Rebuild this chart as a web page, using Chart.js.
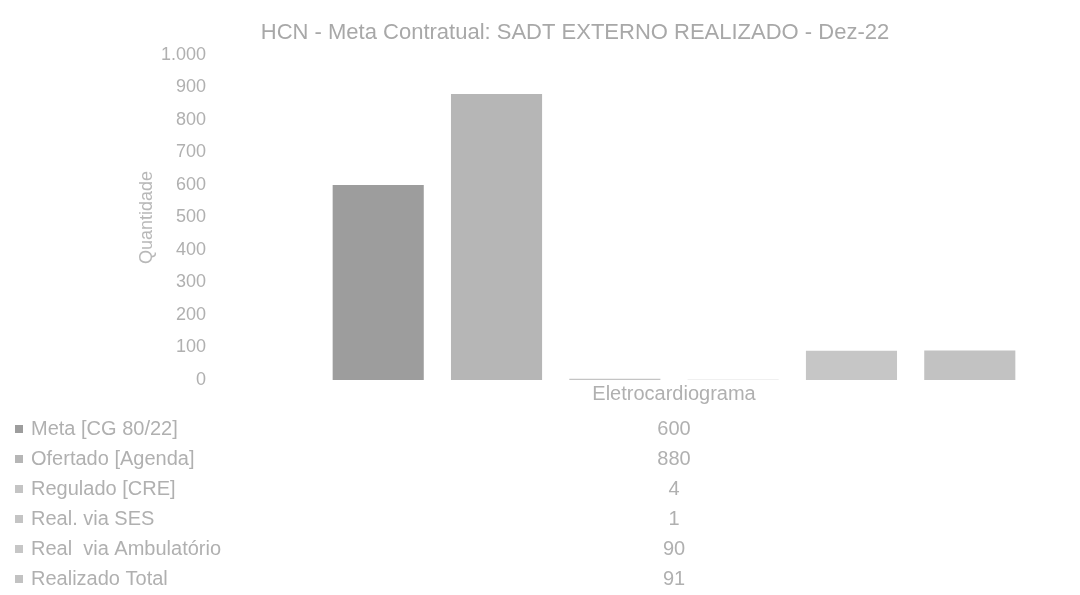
<!DOCTYPE html>
<html lang="pt-BR">
<head>
<meta charset="UTF-8">
<title>HCN - Meta Contratual: SADT EXTERNO REALIZADO - Dez-22</title>
<script src="https://cdn.jsdelivr.net/npm/chart.js"></script>
<style>
  body { margin: 0; background: #fff; }
  #wrap { width: 1080px; height: 595px; position: relative; }
</style>
</head>
<body>
<div id="wrap"><canvas id="grafico"></canvas></div>
<script>
// Dados
const categorias = ['Eletrocardiograma'];
const series = ['Meta [CG 80/22]', 'Ofertado [Agenda]', 'Regulado [CRE]', 'Real. via SES', 'Real  via Ambulatório', 'Realizado Total'];
const valores = [600, 880, 4, 1, 90, 91];
const yTicks = [0, 100, 200, 300, 400, 500, 600, 700, 800, 900, 1000];

const titulo = 'HCN - Meta Contratual: SADT EXTERNO REALIZADO - Dez-22';
const cores = ['#9d9d9d', '#b6b6b6', '#c4c4c4', '#c4c4c4', '#c6c6c6', '#c2c2c2'];
const corTexto = '#b0b0b0';
const fonte = '"Liberation Sans", Arial, sans-serif';

// titulo e tabela de dados abaixo do grafico (como no Excel)
const tabelaPlugin = {
    id: 'tabela',
    afterDraw(chart) {
        const ctx = chart.ctx;
        const xc = chart.scales.x.getPixelForValue(0);
        ctx.save();
        ctx.font = '22px ' + fonte;
        ctx.fillStyle = '#a8a8a8';
        ctx.textAlign = 'center';
        ctx.textBaseline = 'middle';
        ctx.fillText(titulo, 575, 33);

        ctx.font = '20px ' + fonte;
        chart.data.datasets.forEach((ds, i) => {
            const y = 429 + i * 30;
            ctx.fillStyle = ds.backgroundColor;
            ctx.fillRect(15, y - 4, 8, 8);
            ctx.fillStyle = corTexto;
            ctx.textAlign = 'left';
            ctx.fillText(ds.label, 31, y);
            ctx.textAlign = 'center';
            ctx.fillText(ds.data[0].toLocaleString('pt-BR'), xc, y);
        });
        ctx.restore();
    }
};

const ctx = document.getElementById('grafico').getContext('2d');
const grafico = new Chart(ctx, {
    type: 'bar',
    data: {
        labels: categorias,
        datasets: series.map((s, i) => ({
            label: s,
            data: [valores[i]],
            backgroundColor: cores[i],
            borderWidth: 0,
            categoryPercentage: 0.944,
            barPercentage: 0.77
        }))
    },
    options: {
        responsive: true,
        maintainAspectRatio: false,
        animation: false,
        locale: 'pt-BR',
        layout: { padding: { top: 55, left: 132, right: 30, bottom: 187 } },
        plugins: {
            legend: { display: false },
            title: { display: false },
            tooltip: { enabled: false }
        },
        scales: {
            x: {
                grid: { display: false, drawTicks: false },
                border: { display: false },
                ticks: { color: corTexto, font: { family: fonte, size: 20 }, padding: 2 }
            },
            y: {
                min: 0,
                max: 1000,
                afterBuildTicks: (axis) => { axis.ticks = yTicks.map(v => ({ value: v })); },
                afterFit: (axis) => {
                    axis.width = 166;
                    axis.paddingTop = 0;
                    axis.paddingBottom = 0;
                },
                grid: { display: false, drawTicks: false },
                border: { display: false },
                ticks: { color: corTexto, font: { family: fonte, size: 18 }, padding: 92 },
                title: { display: true, text: 'Quantidade', color: '#b8b8b8', font: { family: fonte, size: 18 } }
            }
        }
    },
    plugins: [tabelaPlugin]
});
</script>
</body>
</html>
